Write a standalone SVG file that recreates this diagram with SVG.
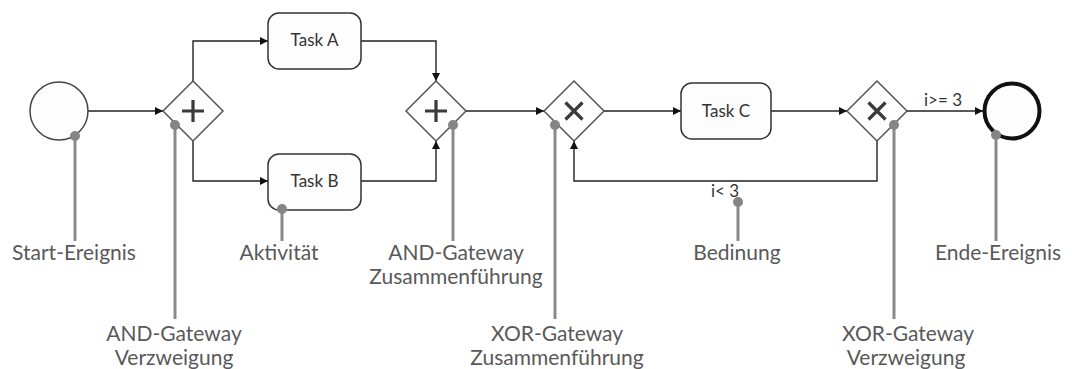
<svg xmlns="http://www.w3.org/2000/svg" width="1072" height="369" viewBox="0 0 1072 369">
  <style>
    .task { fill: #fdfdfd; stroke: #333; stroke-width: 1.5; }
    .gw { fill: #fdfdfd; stroke: #555; stroke-width: 1.5; }
    .sym { stroke: #3a3a3a; stroke-width: 3.2; fill: none; stroke-linecap: butt; }
    .flow { fill: none; stroke: #222; stroke-width: 1.4; }
    .note { stroke: #8a8a8a; stroke-width: 3; fill: none; }
    .dot { fill: #858585; }
    .tt { font-family: Lato, "Open Sans", sans-serif; font-size: 17px; fill: #333; text-anchor: middle; }
    .cond { font-family: Lato, "Open Sans", sans-serif; font-size: 17px; fill: #333; }
    .lbl { font-family: Lato, "Open Sans", sans-serif; font-size: 21px; fill: #595959; text-anchor: middle; }
  </style>
  <defs>
    <marker id="arrow" viewBox="0 0 10 10" refX="10" refY="5" markerWidth="8" markerHeight="8" markerUnits="userSpaceOnUse" orient="auto">
      <path d="M0,0 L10,5 L0,10 z" fill="#111"/>
    </marker>
  </defs>
  <rect width="1072" height="369" fill="#fff"/>

  <!-- sequence flows -->
  <g id="connectors">
    <path class="flow" d="M88,111 H163" marker-end="url(#arrow)"/>
    <path class="flow" d="M193,81 V41 H268" marker-end="url(#arrow)"/>
    <path class="flow" d="M193,141 V181 H268" marker-end="url(#arrow)"/>
    <path class="flow" d="M361,41 H436 V81" marker-end="url(#arrow)"/>
    <path class="flow" d="M361,181 H436 V141" marker-end="url(#arrow)"/>
    <path class="flow" d="M466,111 H544" marker-end="url(#arrow)"/>
    <path class="flow" d="M604,111 H681" marker-end="url(#arrow)"/>
    <path class="flow" d="M771,111 H847" marker-end="url(#arrow)"/>
    <path class="flow" d="M907,111 H983" marker-end="url(#arrow)"/>
    <path class="flow" d="M877,141 V181 H574 V141" marker-end="url(#arrow)"/>
    <text class="cond" x="924" y="106">i&gt;= 3</text>
    <text class="cond" x="711" y="197">i&lt; 3</text>
  </g>

  <!-- process elements -->
  <g id="start-event">
    <circle cx="59" cy="111" r="29" fill="#fdfdfd" stroke="#444" stroke-width="1.5"/>
  </g>
  <g id="and-split">
    <path class="gw" d="M193,81 L223,111 L193,141 L163,111 Z"/>
    <path class="sym" d="M182,111 H204 M193,100 V122"/>
  </g>
  <g id="task-a">
    <rect class="task" x="268" y="13" width="93" height="56" rx="11"/>
    <text class="tt" x="314.5" y="46">Task A</text>
  </g>
  <g id="task-b">
    <rect class="task" x="268" y="154" width="93" height="56" rx="11"/>
    <text class="tt" x="314.5" y="187">Task B</text>
  </g>
  <g id="and-join">
    <path class="gw" d="M436,81 L466,111 L436,141 L406,111 Z"/>
    <path class="sym" d="M425,111 H447 M436,100 V122"/>
  </g>
  <g id="xor-join">
    <path class="gw" d="M574,81 L604,111 L574,141 L544,111 Z"/>
    <path class="sym" d="M565.5,102.5 L582.5,119.5 M582.5,102.5 L565.5,119.5"/>
  </g>
  <g id="task-c">
    <rect class="task" x="681" y="83" width="90" height="56" rx="11"/>
    <text class="tt" x="726" y="117">Task C</text>
  </g>
  <g id="xor-split">
    <path class="gw" d="M877,81 L907,111 L877,141 L847,111 Z"/>
    <path class="sym" d="M868.5,102.5 L885.5,119.5 M885.5,102.5 L868.5,119.5"/>
  </g>
  <g id="end-event">
    <circle cx="1012" cy="111" r="27.5" fill="#fdfdfd" stroke="#111" stroke-width="4"/>
  </g>

  <!-- callouts -->
  <g id="note-start">
    <path class="note" d="M75,136 V241"/>
    <circle class="dot" cx="75" cy="136" r="5"/>
    <text class="lbl" x="74" y="260">Start-Ereignis</text>
  </g>
  <g id="note-and-split">
    <path class="note" d="M175,125 V319"/>
    <circle class="dot" cx="175" cy="125" r="5"/>
    <text class="lbl" x="174" y="341">AND-Gateway</text>
    <text class="lbl" x="174" y="365">Verzweigung</text>
  </g>
  <g id="note-activity">
    <path class="note" d="M282,209 V241"/>
    <circle class="dot" cx="282" cy="209" r="5"/>
    <text class="lbl" x="279" y="260">Aktivität</text>
  </g>
  <g id="note-and-join">
    <path class="note" d="M453,125 V241"/>
    <circle class="dot" cx="453" cy="125" r="5"/>
    <text class="lbl" x="456" y="260">AND-Gateway</text>
    <text class="lbl" x="456" y="284">Zusammenführung</text>
  </g>
  <g id="note-xor-join">
    <path class="note" d="M555,125 V319"/>
    <circle class="dot" cx="555" cy="125" r="5"/>
    <text class="lbl" x="557" y="341">XOR-Gateway</text>
    <text class="lbl" x="557" y="365">Zusammenführung</text>
  </g>
  <g id="note-condition">
    <path class="note" d="M738,202 V241"/>
    <circle class="dot" cx="738" cy="202" r="5"/>
    <text class="lbl" x="737" y="260">Bedinung</text>
  </g>
  <g id="note-xor-split">
    <path class="note" d="M894,125 V319"/>
    <circle class="dot" cx="894" cy="125" r="5"/>
    <text class="lbl" x="908" y="341">XOR-Gateway</text>
    <text class="lbl" x="906" y="365">Verzweigung</text>
  </g>
  <g id="note-end">
    <path class="note" d="M996,135 V241"/>
    <circle class="dot" cx="996" cy="135" r="5"/>
    <text class="lbl" x="998" y="260">Ende-Ereignis</text>
  </g>
</svg>
